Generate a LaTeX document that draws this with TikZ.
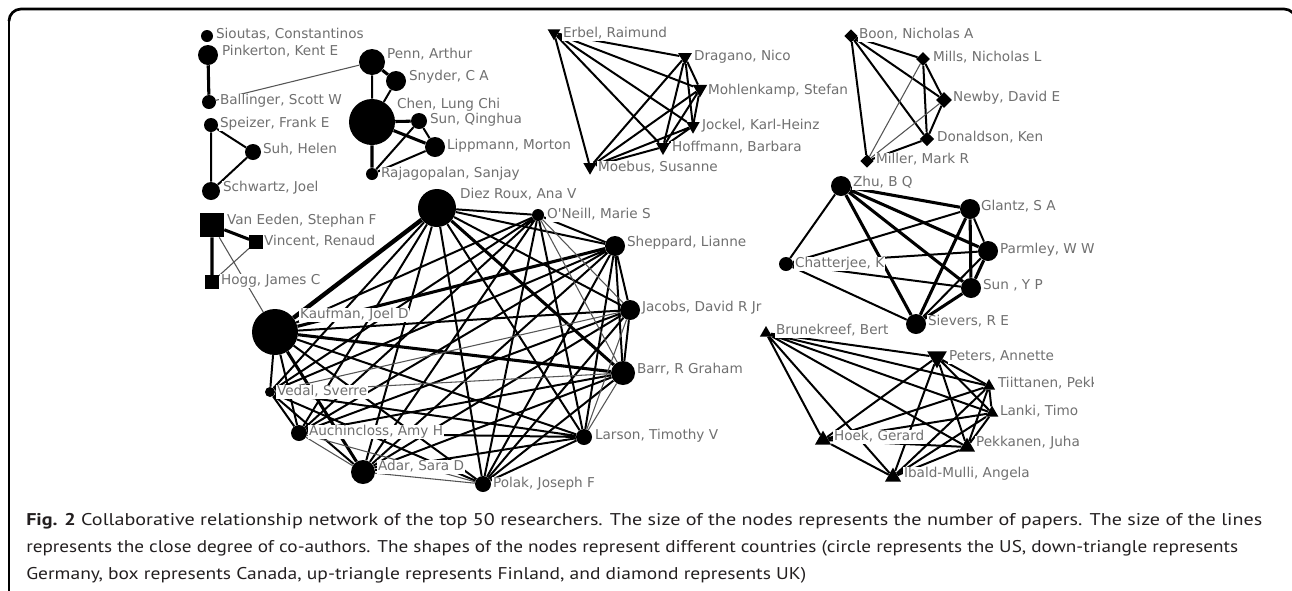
\documentclass[tikz,border=0pt]{standalone}
\usepackage{fontspec}
\usepackage{xcolor}
\usepackage{graphicx}
\usetikzlibrary{shapes.geometric}
\newfontfamily\labfont{DejaVu Sans}
\newfontfamily\capfont{PT Sans}
\definecolor{namegray}{RGB}{112,112,112}
\definecolor{thingray}{RGB}{85,85,85}
\definecolor{captext}{RGB}{35,31,32}
\pgfdeclarelayer{links}
\pgfsetlayers{links,main}

\begin{document}
\begin{tikzpicture}[x=0.75pt,y=0.75pt,yscale=-1,xscale=1,
  usnode/.style={circle,fill=black,inner sep=0pt,minimum size=#1},
  denode/.style={regular polygon,regular polygon sides=3,shape border rotate=180,fill=black,inner sep=0pt,minimum size=#1},
  finode/.style={regular polygon,regular polygon sides=3,fill=black,inner sep=0pt,minimum size=#1},
  uknode/.style={diamond,fill=black,inner sep=0pt,minimum size=#1},
  canode/.style={rectangle,fill=black,inner sep=0pt,minimum size=#1},
  lab/.style={anchor=west,fill=white,inner sep=0.6pt,text=namegray,font=\labfont\fontsize{10.2}{12}\selectfont,text height=7.6pt,text depth=2pt},
  captxt/.style={anchor=base west,inner sep=0pt,text=captext,font=\capfont\fontsize{12.75}{15}\selectfont},
  w1/.style={draw=thingray,line width=0.8pt},
  w2/.style={draw=black,line width=1.5pt},
  w3/.style={draw=black,line width=2.3pt},
  w4/.style={draw=black,line width=3.3pt}]
\useasboundingbox (0,0) rectangle (1292,590);

%Frame
\draw [line width=2pt,rounded corners=9pt] (9,21) -- (9,9) -- (1296,9) -- (1296,40) ;
\draw [line width=1.1pt] (9,21) -- (9,592) ;

% Text Nodes : names
\node[lab] (sioutas-t) at (215,35) {Sioutas, Constantinos};
\node[lab] (pinkerton-t) at (221,52) {Pinkerton, Kent E};
\node[lab] (ballinger-t) at (219,101) {Ballinger, Scott W};
\node[lab] (speizer-t) at (219,124) {Speizer, Frank E};
\node[lab] (suh-t) at (262,150) {Suh, Helen};
\node[lab] (schwartz-t) at (222,188) {Schwartz, Joel};
\node[lab] (penn-t) at (386,55) {Penn, Arthur};
\node[lab] (snyder-t) at (408,77) {Snyder, C A};
\node[lab] (chen-t) at (396,105) {Chen, Lung Chi};
\node[lab] (sunq-t) at (429,120) {Sun, Qinghua};
\node[lab] (lippmann-t) at (446,146) {Lippmann, Morton};
\node[lab] (rajagopalan-t) at (380,174) {Rajagopalan, Sanjay};
\node[lab] (vaneeden-t) at (226,221) {Van Eeden, Stephan F};
\node[lab] (vincent-t) at (263,242) {Vincent, Renaud};
\node[lab] (hogg-t) at (220,281) {Hogg, James C};
\node[lab] (diezroux-t) at (459,195) {Diez Roux, Ana V};
\node[lab] (oneill-t) at (546,215) {O'Neill, Marie S};
\node[lab] (sheppard-t) at (626,243) {Sheppard, Lianne};
\node[lab] (jacobs-t) at (641,308) {Jacobs, David R Jr};
\node[lab] (barr-t) at (636,370) {Barr, R Graham};
\node[lab] (kaufman-t) at (299,315) {Kaufman, Joel D};
\node[lab] (vedal-t) at (276,392) {Vedal, Sverre};
\node[lab] (auchincloss-t) at (308,432) {Auchincloss, Amy H};
\node[lab] (adar-t) at (377,467) {Adar, Sara D};
\node[lab] (polak-t) at (492,484) {Polak, Joseph F};
\node[lab] (larson-t) at (594,436) {Larson, Timothy V};
\node[lab] (erbel-t) at (562,34) {Erbel, Raimund};
\node[lab] (dragano-t) at (693,57) {Dragano, Nico};
\node[lab] (mohlenkamp-t) at (707,91) {Mohlenkamp, Stefan};
\node[lab] (jockel-t) at (701,126) {Jockel, Karl-Heinz};
\node[lab] (hoffmann-t) at (671,148) {Hoffmann, Barbara};
\node[lab] (moebus-t) at (597,168) {Moebus, Susanne};
\node[lab] (boon-t) at (858,35) {Boon, Nicholas A};
\node[lab] (mills-t) at (932,58) {Mills, Nicholas L};
\node[lab] (newby-t) at (952,98) {Newby, David E};
\node[lab] (donaldson-t) at (936,138) {Donaldson, Ken};
\node[lab] (miller-t) at (875,160) {Miller, Mark R};
\node[lab] (zhu-t) at (852,183) {Zhu, B Q};
\node[lab] (glantz-t) at (980,207) {Glantz, S A};
\node[lab] (parmley-t) at (999,250) {Parmley, W W};
\node[lab] (chatterjee-t) at (794,264) {Chatterjee, K};
\node[lab] (sunyp-t) at (982,286) {Sun , Y P};
\node[lab] (sievers-t) at (927,322) {Sievers, R E};
\node[lab] (brunekreef-t) at (775,331) {Brunekreef, Bert};
\node[lab] (peters-t) at (948,357) {Peters, Annette};
\begin{scope}
\clip (0,0) rectangle (1093,590);
\node[lab] (tiittanen-t) at (997,384) {Tiittanen, Pekka};
\end{scope}
\node[lab] (lanki-t) at (999,412) {Lanki, Timo};
\node[lab] (hoek-t) at (833,437) {Hoek, Gerard};
\node[lab] (pekkanen-t) at (975,443) {Pekkanen, Juha};
\node[lab] (ibald-t) at (903,474) {Ibald-Mulli, Angela};

% Shapes : researchers
\node[usnode=9pt] (sioutas) at (207,36) {};
\node[usnode=15pt] (pinkerton) at (208,55) {};
\node[usnode=10.5pt] (ballinger) at (209,102) {};
\node[usnode=10.5pt] (speizer) at (211,125) {};
\node[usnode=12pt] (suh) at (253,152) {};
\node[usnode=13.5pt] (schwartz) at (211,191) {};
\node[usnode=19.5pt] (penn) at (372,62) {};
\node[usnode=15pt] (snyder) at (396,81) {};
\node[usnode=34.5pt] (chen) at (372,122) {};
\node[usnode=12pt] (sunq) at (419,121) {};
\node[usnode=15pt] (lippmann) at (435,147) {};
\node[usnode=9pt] (rajagopalan) at (372,174) {};
\node[canode=18pt] (vaneeden) at (212,225) {};
\node[canode=10pt] (vincent) at (256,242) {};
\node[canode=10pt] (hogg) at (212,282) {};
\node[usnode=28.5pt] (diezroux) at (437,208) {};
\node[usnode=9pt] (oneill) at (538,215) {};
\node[usnode=15pt] (sheppard) at (615,246) {};
\node[usnode=15pt] (jacobs) at (630,310) {};
\node[usnode=18pt] (barr) at (623,373) {};
\node[usnode=34.5pt] (kaufman) at (275,332) {};
\node[usnode=7.5pt] (vedal) at (270,392) {};
\node[usnode=12pt] (auchincloss) at (299,433) {};
\node[usnode=18pt] (adar) at (363,472) {};
\node[usnode=12pt] (polak) at (483,484) {};
\node[usnode=12pt] (larson) at (584,437) {};
\node[denode=11pt] (erbel) at (554,33) {};
\node[denode=12pt] (dragano) at (685,57) {};
\node[denode=12.5pt] (mohlenkamp) at (700,89) {};
\node[denode=11.5pt] (jockel) at (693,126) {};
\node[denode=12pt] (hoffmann) at (663,147) {};
\node[denode=11.5pt] (moebus) at (590,167) {};
\node[uknode=10pt] (boon) at (851,36) {};
\node[uknode=10.5pt] (mills) at (923,59) {};
\node[uknode=12pt] (newby) at (944,100) {};
\node[uknode=11pt] (donaldson) at (927,139) {};
\node[uknode=10pt] (miller) at (867,161) {};
\node[usnode=15pt] (zhu) at (841,186) {};
\node[usnode=15pt] (glantz) at (970,209) {};
\node[usnode=15pt] (parmley) at (988,251) {};
\node[usnode=10.5pt] (chatterjee) at (786,264) {};
\node[usnode=15pt] (sunyp) at (971,288) {};
\node[usnode=15pt] (sievers) at (916,324) {};
\node[finode=10.5pt] (brunekreef) at (766,333) {};
\node[denode=17pt] (peters) at (937,357) {};
\node[finode=10.5pt] (tiittanen) at (989,386) {};
\node[finode=11pt] (lanki) at (992,413) {};
\node[finode=14pt] (hoek) at (823,440) {};
\node[finode=14pt] (pekkanen) at (967,447) {};
\node[finode=14pt] (ibald) at (893,477) {};

% Straight Lines : co-authorship
\begin{pgfonlayer}{links}
\draw[w3] (pinkerton) -- (ballinger) (penn) -- (snyder) (chen) -- (sunq) (chen) -- (lippmann) (chen) -- (rajagopalan) ;
\draw[w1] (ballinger) -- (penn) (hogg) -- (vincent) (vaneeden) -- (kaufman) ;
\draw[w2] (speizer) -- (suh) (suh) -- (schwartz) (speizer) -- (schwartz) ;
\draw[w2] (penn) -- (chen) (snyder) -- (chen) (sunq) -- (lippmann) (rajagopalan) -- (sunq) (rajagopalan) -- (lippmann) ;
\draw[w3] (vaneeden) -- (vincent) (vaneeden) -- (hogg) ;
%big US group
\draw[w4] (kaufman) -- (diezroux) ;
\draw[w3] (kaufman) -- (sheppard) (kaufman) -- (barr) (kaufman) -- (adar) (diezroux) -- (barr) ;
\draw[w2] (kaufman) -- (oneill) (kaufman) -- (jacobs) (kaufman) -- (larson) (kaufman) -- (polak) (kaufman) -- (auchincloss) (kaufman) -- (vedal) ;
\draw[w2] (diezroux) -- (oneill) (diezroux) -- (sheppard) (diezroux) -- (jacobs) (diezroux) -- (larson) (diezroux) -- (polak) (diezroux) -- (adar) (diezroux) -- (auchincloss) (diezroux) -- (vedal) ;
\draw[w2] (oneill) -- (sheppard) (oneill) -- (larson) (oneill) -- (polak) (oneill) -- (adar) (oneill) -- (auchincloss) (oneill) -- (vedal) ;
\draw[w2] (sheppard) -- (jacobs) (sheppard) -- (barr) (sheppard) -- (larson) (sheppard) -- (polak) (sheppard) -- (adar) (sheppard) -- (auchincloss) (sheppard) -- (vedal) ;
\draw[w2] (jacobs) -- (barr) (jacobs) -- (polak) (jacobs) -- (adar) (jacobs) -- (auchincloss) ;
\draw[w2] (barr) -- (polak) (barr) -- (adar) (barr) -- (auchincloss) ;
\draw[w2] (larson) -- (polak) (larson) -- (adar) (larson) -- (auchincloss) (larson) -- (vedal) ;
\draw[w2] (polak) -- (vedal) (adar) -- (vedal) (auchincloss) -- (vedal) ;
\draw[w1] (oneill) -- (jacobs) (oneill) -- (barr) (jacobs) -- (larson) (jacobs) -- (vedal) (barr) -- (larson) (barr) -- (vedal) (polak) -- (adar) (polak) -- (auchincloss) (adar) -- (auchincloss) ;
%German group
\draw[w2] (erbel) -- (dragano) (erbel) -- (mohlenkamp) (erbel) -- (jockel) (erbel) -- (hoffmann) (erbel) -- (moebus) ;
\draw[w2] (dragano) -- (mohlenkamp) (dragano) -- (jockel) (dragano) -- (hoffmann) (dragano) -- (moebus) ;
\draw[w2] (mohlenkamp) -- (jockel) (mohlenkamp) -- (hoffmann) (mohlenkamp) -- (moebus) (jockel) -- (hoffmann) (jockel) -- (moebus) (hoffmann) -- (moebus) ;
%UK group
\draw[w2] (boon) -- (mills) (mills) -- (donaldson) ;
\draw[w2] (boon) -- (newby) (boon) -- (donaldson) (boon) -- (miller) (mills) -- (newby) (newby) -- (donaldson) (donaldson) -- (miller) ;
\draw[w1] (mills) -- (miller) (newby) -- (miller) ;
%Zhu group
\draw[w3] (zhu) -- (glantz) (zhu) -- (parmley) (zhu) -- (sunyp) (zhu) -- (sievers) (glantz) -- (sunyp) (glantz) -- (sievers) (parmley) -- (sunyp) (sunyp) -- (sievers) ;
\draw[w2] (zhu) -- (chatterjee) (glantz) -- (parmley) (parmley) -- (sievers) (chatterjee) -- (glantz) (chatterjee) -- (parmley) (chatterjee) -- (sunyp) (chatterjee) -- (sievers) ;
%Finland group
\draw[w2] (brunekreef) -- (peters) (brunekreef) -- (tiittanen) (brunekreef) -- (lanki) (brunekreef) -- (hoek) (brunekreef) -- (pekkanen) (brunekreef) -- (ibald) ;
\draw[w2] (peters) -- (tiittanen) (peters) -- (lanki) (peters) -- (hoek) (peters) -- (pekkanen) (peters) -- (ibald) ;
\draw[w2] (tiittanen) -- (lanki) (tiittanen) -- (hoek) (tiittanen) -- (pekkanen) (tiittanen) -- (ibald) (lanki) -- (hoek) (lanki) -- (pekkanen) (lanki) -- (ibald) ;
\draw[w2] (hoek) -- (ibald) (hoek) -- (pekkanen) (pekkanen) -- (ibald) ;
\end{pgfonlayer}

% Text Node : caption
\node[captxt] (cap1) at (26,525) {\resizebox{927pt}{\height}{\textbf{Fig. 2} Collaborative relationship network of the top 50 researchers. The size of the nodes represents the number of papers. The size of the lines}};
\node[captxt] (cap2) at (26,552) {\resizebox{909pt}{\height}{represents the close degree of co-authors. The shapes of the nodes represent different countries (circle represents the US, down-triangle represents}};
\node[captxt] (cap3) at (26,579) {\resizebox{585pt}{\height}{Germany, box represents Canada, up-triangle represents Finland, and diamond represents UK)}};

\end{tikzpicture}
\end{document}
